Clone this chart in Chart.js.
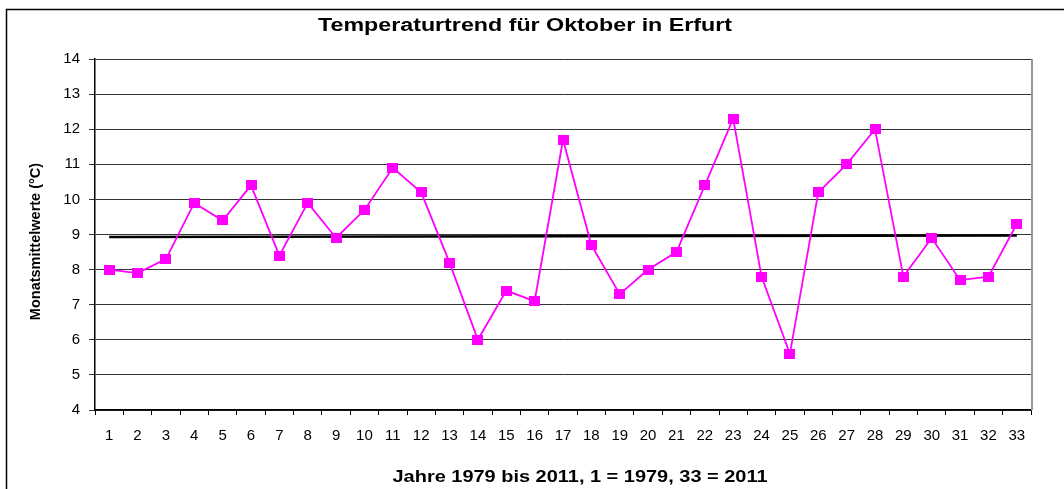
<!DOCTYPE html>
<html><head><meta charset="utf-8">
<script src="https://cdn.jsdelivr.net/npm/chart.js@4/dist/chart.umd.min.js"></script>
<style>html,body{margin:0;padding:0;background:#fff;overflow:hidden}#wrap{width:1064px;height:489px;position:relative}</style>
</head><body><div id="wrap"><canvas id="c" width="1064" height="489"></canvas></div>
<script>
const chartTitle = 'Temperaturtrend für Oktober in Erfurt';
const xAxisTitle = 'Jahre 1979 bis 2011, 1 = 1979, 33 = 2011';
const yAxisTitle = 'Monatsmittelwerte (°C)';
const categories = ['1','2','3','4','5','6','7','8','9','10','11','12','13','14','15','16','17','18','19','20','21','22','23','24','25','26','27','28','29','30','31','32','33'];
const monthlyMeans = [8.0,7.9,8.3,9.9,9.4,10.4,8.4,9.9,8.9,9.7,10.9,10.2,8.2,6.0,7.4,7.1,11.7,8.7,7.3,8.0,8.5,10.4,12.3,7.8,5.6,10.2,11.0,12.0,7.8,8.9,7.7,7.8,9.3];
const trendStart = 8.93;
const trendEnd = 8.97;
const yTicks = [4,5,6,7,8,9,10,11,12,13,14];

const trendData = categories.map((c, i) => i === 0 ? trendStart : (i === categories.length - 1 ? trendEnd : null));

const marker = document.createElement('canvas');
marker.width = 11; marker.height = 10;
const mctx = marker.getContext('2d');
mctx.fillStyle = '#FF00FF';
mctx.fillRect(0, 0, 11, 10);

const FONT = "'Liberation Sans', Arial, sans-serif";
const TITLE_FONT = "bold 18px " + FONT;
const XTITLE_FONT = "bold 17px " + FONT;

const decor = {
  id: 'decor',
  beforeDraw(chart) {
    const ctx = chart.ctx;
    ctx.save();
    ctx.fillStyle = '#fff';
    ctx.fillRect(0, 0, chart.width, chart.height);
    ctx.restore();
  },
  afterDraw(chart) {
    const ctx = chart.ctx;
    const a = chart.chartArea;
    ctx.save();
    ctx.strokeStyle = '#000';
    ctx.lineWidth = 1.5;
    ctx.beginPath();
    ctx.moveTo(6.5, chart.height);
    ctx.lineTo(6.5, 9.5);
    ctx.lineTo(chart.width, 9.5);
    ctx.stroke();
    ctx.strokeStyle = '#999';
    ctx.lineWidth = 2;
    ctx.beginPath();
    ctx.moveTo(a.right + 1, a.top);
    ctx.lineTo(a.right + 1, a.bottom);
    ctx.stroke();
    // x axis title (horizontally widened like the reference)
    ctx.fillStyle = '#000';
    ctx.font = XTITLE_FONT;
    ctx.textAlign = 'center';
    ctx.textBaseline = 'alphabetic';
    const w = ctx.measureText(xAxisTitle).width;
    const sx = 375 / w;
    ctx.translate(580, 0);
    ctx.scale(sx, 1);
    ctx.fillText(xAxisTitle, 0, 482);
    ctx.restore();
  }
};

const chart = new Chart(document.getElementById('c'), {
  type: 'line',
  data: {
    labels: categories,
    datasets: [
      {
        label: 'Monatsmittel',
        data: monthlyMeans,
        borderColor: '#FF00FF',
        borderWidth: 1.8,
        pointStyle: marker,
        pointRadius: 6,
        pointHoverRadius: 6,
        tension: 0,
        order: 1
      },
      {
        label: 'Trend',
        data: trendData,
        borderColor: '#000',
        borderWidth: 2.5,
        pointRadius: 0,
        spanGaps: true,
        tension: 0,
        order: 2
      }
    ]
  },
  options: {
    responsive: false,
    animation: false,
    devicePixelRatio: 1,
    events: [],
    layout: { padding: { left: 0, right: 14, top: 0, bottom: 0 } },
    plugins: {
      legend: { display: false },
      tooltip: { enabled: false },
      title: {
        display: true,
        text: chartTitle,
        color: '#000',
        font: { family: FONT, size: 18, weight: 'bold' },
        padding: { top: 15.5, bottom: 21.9 }
      }
    },
    scales: {
      x: {
        offset: true,
        grid: { offset: true, drawOnChartArea: false, drawTicks: true, tickLength: 5, color: '#000', lineWidth: 1 },
        border: { color: '#000', width: 1.5 },
        ticks: { color: '#000', font: { family: FONT, size: 15 }, padding: 12, maxRotation: 0, autoSkip: false },
        afterFit(s) { s.height = 79; }
      },
      y: {
        min: 4, max: 14,
        afterBuildTicks(s) { s.ticks = yTicks.map(v => ({ value: v })); },
        grid: { color: '#333', lineWidth: 1, tickLength: 6, drawTicks: true },
        border: { color: '#000', width: 1.5 },
        ticks: { color: '#000', font: { family: FONT, size: 15 }, padding: 9 },
        title: {
          display: true,
          text: yAxisTitle,
          color: '#000',
          font: { family: FONT, size: 14.5, weight: 'bold' },
          padding: { top: 27, bottom: 0 }
        },
        afterFit(s) { s.width = 95; }
      },
      yR: {
        position: 'right',
        display: true,
        grid: { display: false },
        border: { display: false },
        ticks: { display: false },
        afterFit(s) { s.width = 19; }
      }
    }
  },
  plugins: [decor]
});

// widen the title horizontally around its centre, as in the reference
const tb = chart.titleBlock;
if (tb) {
  const origDraw = tb.draw;
  tb.draw = function (...args) {
    const c = this.ctx;
    c.save();
    c.font = TITLE_FONT;
    const w = c.measureText(chartTitle).width;
    const cx = (this.left + this.right) / 2;
    c.translate(cx, 0);
    c.scale(414 / w, 1);
    c.translate(-cx, 0);
    origDraw.apply(this, args);
    c.restore();
  };
}
// shift the y-axis title slightly down, as in the reference
const ys = chart.scales.y;
const origTitle = ys.drawTitle;
ys.drawTitle = function (...args) {
  const c = this.ctx;
  c.save();
  c.translate(0, 7);
  origTitle.apply(this, args);
  c.restore();
};
chart.draw();
</script>
</body></html>
